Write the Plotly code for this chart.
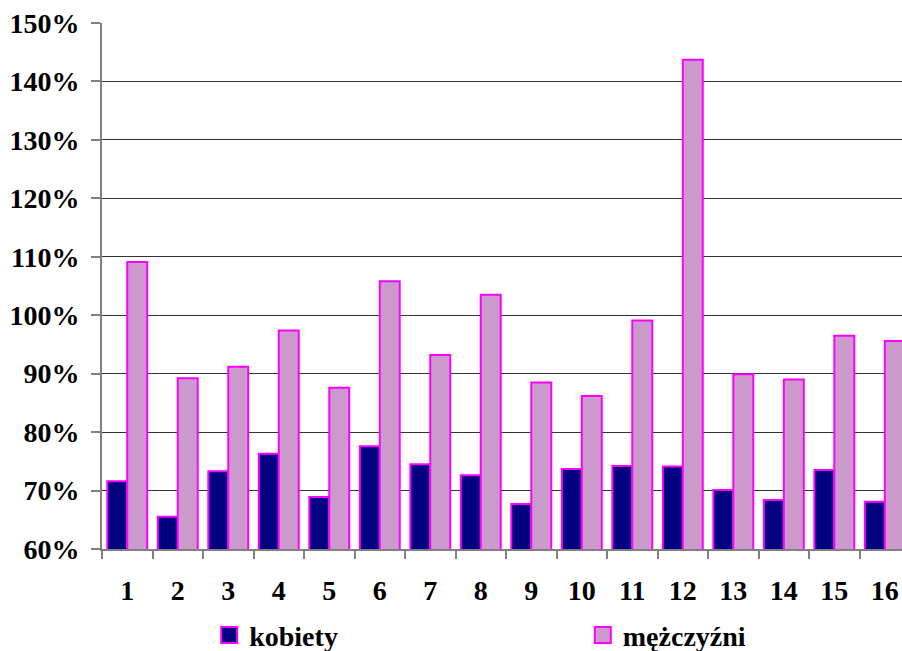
import plotly.graph_objects as go

categories = [str(i) for i in range(1, 17)]
kobiety = [71.6, 65.5, 73.3, 76.3, 68.9, 77.6, 74.5, 72.6, 67.7, 73.7, 74.2, 74.1, 70.1, 68.4, 73.5, 68.1]
mezczyzni = [109.1, 89.2, 91.2, 97.4, 87.6, 105.8, 93.2, 103.5, 88.5, 86.2, 99.1, 143.7, 89.9, 89.0, 96.5, 95.6]
y_ticks = [60, 70, 80, 90, 100, 110, 120, 130, 140, 150]
names = ["kobiety", "mężczyźni"]
colors = ["#000080", "#CC99CC"]
edge = "#FF00FF"

TF = dict(family="Liberation Serif", size=28, color="black", weight="bold")

fig = go.Figure()
for name, vals, col in zip(names, [kobiety, mezczyzni], colors):
    fig.add_trace(go.Bar(x=categories, y=vals, name=name, showlegend=False,
                         marker=dict(color=col, line=dict(color=edge, width=2))))
# legend entries (one per legend box so they can be placed independently)
for name, col, lg in zip(names, colors, ["legend", "legend2"]):
    fig.add_trace(go.Scatter(x=[None], y=[None], mode="markers", name=name, legend=lg,
                             marker=dict(symbol="square", size=17, color=col,
                                         line=dict(color=edge, width=2))))

leg_common = dict(orientation="h", yref="container", yanchor="middle", y=0.024,
                  xanchor="left", font=TF, bgcolor="rgba(0,0,0,0)")

fig.update_layout(
    template="none",
    width=902, height=651,
    margin=dict(l=102, r=0, t=23, b=102, autoexpand=False),
    paper_bgcolor="white", plot_bgcolor="white",
    barmode="group", bargap=0.21, bargroupgap=0,
    font=dict(family="Liberation Serif", size=28, color="black"),
    showlegend=True,
    legend=dict(x=0.134, **leg_common),
    legend2=dict(x=0.601, **leg_common),
)
fig.update_xaxes(
    type="category", range=[-0.5, 15.34], automargin=False,
    showgrid=False, showline=True, linecolor="#808080", linewidth=2,
    ticks="outside", ticklen=8, tickcolor="#808080", tickwidth=2, tickson="boundaries",
    tickfont=TF, ticklabelstandoff=15, ticklabeloverflow="allow",
)
fig.update_yaxes(
    range=[60, 150], tickvals=y_ticks, ticktext=[f"{v}%" for v in y_ticks],
    automargin=False,
    showgrid=True, gridcolor="#333333", gridwidth=1,
    showline=True, linecolor="#808080", linewidth=2,
    ticks="outside", ticklen=9, tickcolor="#808080", tickwidth=2,
    tickfont=TF, ticklabelstandoff=6, zeroline=False, ticklabeloverflow="allow",
)

fig.write_html(
    "out.html",
    config={"displayModeBar": False},
    post_script="document.documentElement.style.overflow='hidden';"
                "document.body.style.margin='0';document.body.style.overflow='hidden';",
)
